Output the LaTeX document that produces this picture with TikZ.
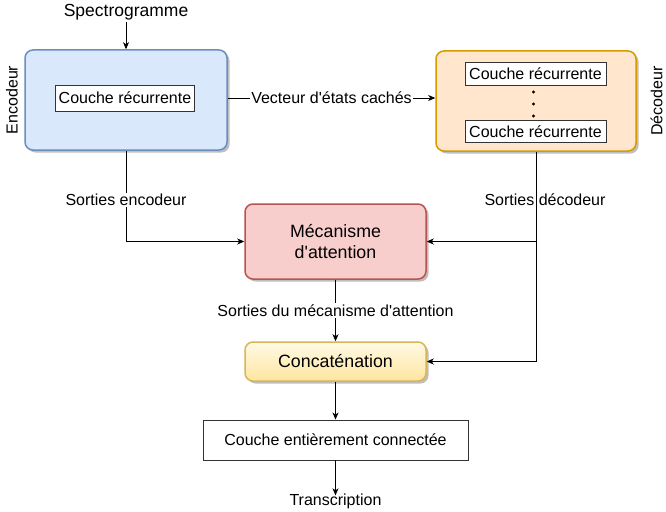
\documentclass[tikz,border=0pt]{standalone}
\usepackage{fontspec}
\setmainfont{Liberation Sans}[Ligatures=TeXOff]
\usetikzlibrary{arrows.meta,shadows,positioning}
\definecolor{encfill}{HTML}{DAE8FC}
\definecolor{encdraw}{HTML}{6C8EBF}
\definecolor{decfill}{HTML}{FFE6CC}
\definecolor{decdraw}{HTML}{D79B00}
\definecolor{attfill}{HTML}{F8CECC}
\definecolor{attdraw}{HTML}{B85450}
\definecolor{cattop}{HTML}{FFFAE6}
\definecolor{catbot}{HTML}{FFE59E}
\definecolor{catdraw}{HTML}{D6B656}
\definecolor{innerdraw}{HTML}{333333}
\tikzset{
  txt/.style={font=\fontsize{16}{19}\selectfont, inner sep=0pt, align=center},
  bigtxt/.style={font=\fontsize{17.8}{20.5}\selectfont, inner sep=0pt, align=center},
  bshadow/.style={drop shadow={shadow xshift=2.5pt, shadow yshift=-2.5pt, opacity=0.25, fill=black}},
  bigbox/.style={rounded corners=8pt, line width=1.5pt, bshadow},
  innerbox/.style={txt, draw=innerdraw, line width=0.9pt, fill=white, minimum width=141pt, minimum height=23pt},
  arr/.style={-{Stealth[length=7pt,width=6pt,inset=2pt]}, line width=0.9pt},
  lbl/.style={txt, fill=white, inner sep=1.5pt},
}
\begin{document}
\begin{tikzpicture}[x=1pt,y=-1pt]
\useasboundingbox[fill=white] (0,0) rectangle (666,511);
% encoder
\node[bigbox, fill=encfill, draw=encdraw, minimum width=202pt, minimum height=100pt] (enc) at (126,100) {};
\node[innerbox, minimum width=139pt, minimum height=26pt] (encin) at (125,98) {Couche récurrente};
\node[txt, rotate=90] (enclab) at (12,100) {Encodeur};
\node[txt, font=\fontsize{17.5}{20}\selectfont] (spec) at (126,12) {Spectrogramme};
% decoder
\node[bigbox, fill=decfill, draw=decdraw, minimum width=200pt, minimum height=100pt] (dec) at (536,101) {};
\node[innerbox] (decin1) at (535.5,73.5) {Couche récurrente};
\node[innerbox, minimum height=22pt] (decin2) at (535.5,131.5) {Couche récurrente};
\foreach \yy [count=\i] in {92,104,116}
  \fill (533.5,\yy) circle (1.6pt) coordinate (dot\i);
\node[txt, rotate=90] (declab) at (656.5,101) {Décodeur};
% attention
\node[bigbox, fill=attfill, draw=attdraw, minimum width=181pt, minimum height=75pt, bigtxt] (att) at (335.5,241.5) {Mécanisme\\d'attention};
% concat
\node[bigbox, top color=cattop, bottom color=catbot, draw=catdraw, minimum width=181pt, minimum height=39pt, bigtxt] (cat) at (335.5,361.5) {Concaténation};
% fully connected
\node[txt, draw=black!80, line width=0.9pt, minimum width=265pt, minimum height=40pt] (fc) at (335.5,440) {Couche entièrement connectée};
\node[txt] (trans) at (335.5,501) {Transcription};
% connectors
\draw[arr] (spec.south) ++(0,-2pt) -- (enc.north);
\draw[arr] (enc.east |- encin) -- node[lbl] (veclab) {Vecteur d'états cachés} (dec.west |- encin);
\draw[arr] (enc.south) |- (att.west);
\node[lbl] (sortenc) at (126,200) {Sorties encodeur};
\draw[arr] (dec.south) |- (att.east);
\draw[arr] (dec.south) |- (cat.east);
\node[txt] (sortdec) at (545,200) {Sorties décodeur};
\draw[arr] (att.south) -- node[lbl, pos=0.5] (sortatt) {Sorties du mécanisme d'attention} (cat.north);
\draw[arr] (cat.south) -- (fc.north);
\draw[arr] (fc.south) -- ([yshift=-2pt]trans.north);
\end{tikzpicture}
\end{document}
